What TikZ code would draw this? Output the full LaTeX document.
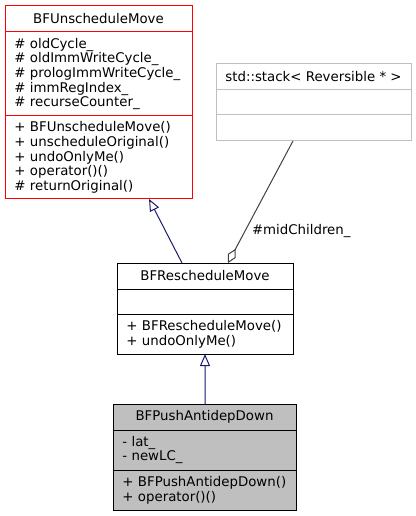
\documentclass[tikz,border=0pt]{standalone}
\usepackage{fontspec}
\setmainfont{DejaVu Sans}
\usetikzlibrary{positioning,arrows.meta}
\definecolor{edgeblue}{HTML}{191970}
\definecolor{edgegray}{HTML}{404040}
\definecolor{stdgray}{HTML}{BFBFBF}
\tikzset{
  part/.style={draw, rectangle, line width=0.75pt, outer sep=0pt, inner xsep=7pt, inner ysep=0pt,
    font=\fontsize{10pt}{11pt}\selectfont},
  head/.style={part, minimum width=#1, minimum height=19.5pt, anchor=north west, align=center},
  body/.style={part, text width=#1, align=left},
  inherit/.style={edgeblue, line width=0.75pt, -{Triangle[open,length=9pt,width=7.5pt]}},
  member/.style={edgegray, line width=0.75pt, -{Diamond[open,length=12pt,width=6.5pt]}},
  rolelabel/.style={inner sep=0pt, anchor=west, text=black, font=\fontsize{10pt}{11pt}\selectfont}
}
\begin{document}
\begin{tikzpicture}[x=0.75pt,y=-0.75pt]
    \useasboundingbox (0,0) rectangle (416,516);
    \node[head=140.25pt, draw=red] (unsched) at (5,6) {BFUnscheduleMove};
    \node[body=126.25pt, draw=red, minimum height=63pt, below=0pt of unsched] (unschedAttr)
        {\# oldCycle\_\\\# oldImmWriteCycle\_\\\# prologImmWriteCycle\_\\\# immRegIndex\_\\\# recurseCounter\_};
    \node[body=126.25pt, draw=red, minimum height=62.25pt, below=0pt of unschedAttr] (unschedOps)
        {+ BFUnscheduleMove()\\+ unscheduleOriginal()\\+ undoOnlyMe()\\+ operator()()\\\# returnOriginal()};
    \node[head=146.25pt, draw=stdgray] (stack) at (216,64) {std::stack< Reversible * >};
    \node[body=132.25pt, draw=stdgray, minimum height=18.75pt, below=0pt of stack] (stackAttr) {};
    \node[body=132.25pt, draw=stdgray, minimum height=19.5pt, below=0pt of stackAttr] (stackOps) {};
    \node[head=132pt] (resched) at (117,263) {BFRescheduleMove};
    \node[body=118pt, minimum height=18.75pt, below=0pt of resched] (reschedAttr) {};
    \node[body=118pt, minimum height=30pt, below=0pt of reschedAttr] (reschedOps)
        {+ BFRescheduleMove()\\+ undoOnlyMe()};
    \node[head=137.25pt, fill=stdgray] (push) at (113,404) {BFPushAntidepDown};
    \node[body=123.25pt, fill=stdgray, minimum height=30pt, below=0pt of push] (pushAttr)
        {- lat\_\\- newLC\_};
    \node[body=123.25pt, fill=stdgray, minimum height=30pt, below=0pt of pushAttr] (pushOps)
        {+ BFPushAntidepDown()\\+ operator()()};
    \draw[inherit] ([xshift=-17.25pt]resched.north) -- ([xshift=37.9pt]unschedOps.south);
    \draw[inherit] ([xshift=0.4pt]push.north) -- (reschedOps.south);
    \draw[member] ([xshift=-15.4pt]stackOps.south) -- node[rolelabel, pos=0.74, xshift=5pt] (role) {\#midChildren\_}
        ([xshift=17.25pt]resched.north); %aggregation
\end{tikzpicture}
\end{document}
